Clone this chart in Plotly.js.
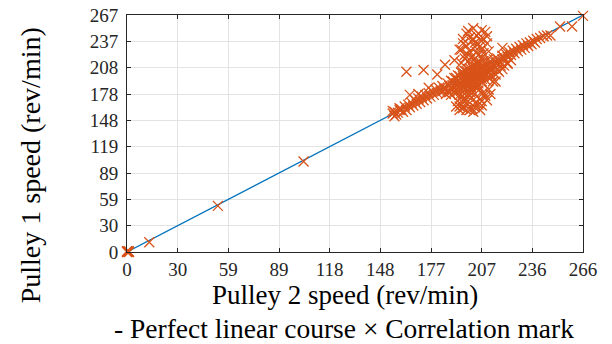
<!DOCTYPE html>
<html>
<head>
<meta charset="utf-8">
<script src="https://cdn.plot.ly/plotly-3.0.1.min.js"></script>
<style>
html,body{margin:0;padding:0;background:#fff;}
#chart{width:612px;height:344px;}
</style>
</head>
<body>
<div id="chart"></div>
<script>
// Perfect linear course (reference line)
const lineX = [0, 266];
const lineY = [0, 267];

// Correlation marks (Pulley 2 speed, Pulley 1 speed)
const markX = [
  0, 0.5, 1, 0, 1.2, 0.3, 13, 53, 103,
  155, 156, 157, 158, 156, 159, 155,
  160, 161, 162, 163, 164, 165, 166, 167, 168, 169, 170, 171, 172, 173, 174, 175, 176, 177, 178, 179, 180, 181, 182, 183, 184, 185,
  186, 187, 188, 189, 190, 190, 191, 192, 192, 193, 193, 194, 194, 195, 195, 196, 196, 197, 197, 197, 198, 198, 198, 199, 199, 199, 200, 200, 200, 200, 201, 201, 201, 202, 202, 202, 203, 203, 203, 204, 204, 204, 205, 205, 205, 206, 206, 206, 207, 207, 207, 208, 208, 208, 209, 209, 210, 210, 210, 211, 211, 212, 212, 213, 213, 214, 215, 215, 216, 217, 218, 219,
  196, 198, 199, 201, 202, 203, 204, 205, 200, 197, 195, 193, 191, 189,
  199, 201, 203, 205, 197, 195, 193, 191, 189, 187,
  165, 159, 163, 173, 170, 176, 181, 185.5, 191, 194, 196, 202, 209, 206, 200, 210, 198, 204, 207, 199, 203, 197, 201, 208, 195,
  194, 201, 210, 196, 204, 194, 215, 192, 200, 196, 199, 203, 206, 200, 197, 202, 205, 195, 207, 212,
  219, 220, 221, 222, 223, 224, 225, 226, 227, 228, 229, 230, 231, 232, 233, 234, 235, 236, 237, 238, 239, 241, 243, 245, 247, 252.6, 259.6, 266, 219, 213.5, 216, 222,
  197, 199, 201, 203, 205, 207, 200, 204, 206, 198, 202, 205, 199, 207, 210, 196, 203, 208, 195, 211,
  193, 195, 197, 199, 201, 203, 205, 207, 209, 198, 202, 206, 194, 211, 208, 196, 204, 200,
  190, 192, 194, 196, 198, 200, 202, 204, 206, 208, 210, 212, 214, 216, 205, 207, 209, 211, 213, 215, 217, 219, 188, 186, 184, 220, 222, 224, 218, 212
];
const markY = [
  0, 0.3, 1, 0.8, 0, 0.5, 11, 52, 102,
  156, 158, 155, 157, 153, 160, 159,
  161, 158, 164, 160, 166, 163, 168, 165, 171, 167, 173, 169, 175, 171, 177, 173, 179, 175, 181, 177, 183, 179, 185, 181, 187, 183,
  178, 182, 180, 185, 183, 188, 186, 190, 184, 188, 193, 191, 186, 195, 189, 192, 198, 190, 195, 200, 193, 197, 188, 196, 201, 192, 194, 199, 204, 189, 197, 202, 192, 195, 200, 206, 198, 193, 203, 196, 201, 207, 199, 194, 204, 202, 197, 208, 200, 205, 195, 203, 209, 198, 206, 201, 204, 210, 199, 207, 202, 209, 205, 211, 207, 210, 213, 208, 212, 215, 213, 217,
  186, 184, 187, 185, 189, 188, 190, 187, 183, 183, 182, 181, 179, 177,
  206, 209, 211, 212, 204, 202, 199, 196, 193, 190,
  177, 162, 203, 205, 178, 185, 200, 211, 216, 228, 235, 252, 248, 239, 242, 235, 246, 244, 228, 222, 231, 222, 237, 240, 228,
  160, 162, 171, 171, 175, 164, 192, 164, 160, 168, 166, 168, 172, 176, 178, 180, 182, 175, 165, 178,
  221, 218, 223, 220, 225, 222, 227, 224, 229, 226, 231, 228, 233, 230, 235, 232, 236, 234, 238, 236, 240, 241, 243, 244, 244, 254, 254, 266, 230, 192, 205, 213,
  218, 215, 220, 218, 222, 219, 226, 225, 232, 232, 240, 246, 249, 250, 243, 240, 236, 224, 213, 226,
  170, 166, 173, 170, 174, 163, 166, 170, 176, 160, 158, 160, 177, 183, 180, 162, 185, 180,
  192, 196, 198, 202, 204, 207, 210, 212, 214, 215, 216, 215, 217, 218, 190, 192, 194, 196, 198, 200, 203, 206, 187, 184, 181, 210, 212, 216, 210, 200
];

// Axis tick labels
const xTickLabels = ['0', '30', '59', '89', '118', '148', '177', '207', '236', '266'];
const yTickLabels = ['0', '30', '59', '89', '119', '148', '178', '208', '237', '267'];
const xMax = 266, yMax = 267;
const xTickVals = xTickLabels.map((_, i) => i * xMax / 9);
const yTickVals = yTickLabels.map((_, i) => i * yMax / 9);

const FONT_FAMILY = 'Liberation Serif';
const axisCommon = {
  showline: true, mirror: 'ticks', linecolor: '#262626', linewidth: 1,
  ticks: 'inside', ticklen: 4, tickcolor: '#262626', tickwidth: 1,
  showgrid: true, gridcolor: '#e3e3e3', gridwidth: 1,
  zeroline: false, tickmode: 'array',
  tickfont: {family: FONT_FAMILY, size: 19, color: '#262626'}
};

const traces = [
  {x: lineX, y: lineY, type: 'scatter', mode: 'lines',
   line: {color: '#0072BD', width: 1.2}, hoverinfo: 'skip'},
  {x: markX, y: markY, type: 'scatter', mode: 'markers', cliponaxis: false,
   marker: {symbol: 'x-thin', size: 10, color: '#D95319', line: {color: '#D95319', width: 1.3}}}
];

const layout = {
  width: 612, height: 344,
  margin: {l: 127, r: 29, t: 15, b: 92, pad: 0},
  paper_bgcolor: '#ffffff', plot_bgcolor: '#ffffff',
  font: {family: FONT_FAMILY, color: '#000'},
  showlegend: false,
  xaxis: Object.assign({}, axisCommon, {
    range: [0, xMax], tickvals: xTickVals, ticktext: xTickLabels
  }),
  yaxis: Object.assign({}, axisCommon, {
    range: [0, yMax], tickvals: yTickVals, ticktext: yTickLabels, ticklabelstandoff: 4
  }),
  annotations: [
    {text: 'Pulley 2 speed (rev/min)', xref: 'paper', yref: 'paper', x: 0.478, y: -0.181,
     showarrow: false, xanchor: 'center', yanchor: 'middle',
     font: {family: FONT_FAMILY, size: 27, color: '#000'}},
    {text: 'Pulley 1 speed (rev/min)', xref: 'paper', yref: 'paper', x: -0.2127, y: 0.366,
     textangle: -90, showarrow: false, xanchor: 'center', yanchor: 'middle',
     font: {family: FONT_FAMILY, size: 28, color: '#000'}},
    {text: '- Perfect linear course \u00d7 Correlation mark', xref: 'paper', yref: 'paper',
     x: 0.476, y: -0.321, showarrow: false, xanchor: 'center', yanchor: 'middle',
     font: {family: FONT_FAMILY, size: 27.5, color: '#000'}}
  ]
};

Plotly.newPlot('chart', traces, layout, {displayModeBar: false});
</script>
</body>
</html>
